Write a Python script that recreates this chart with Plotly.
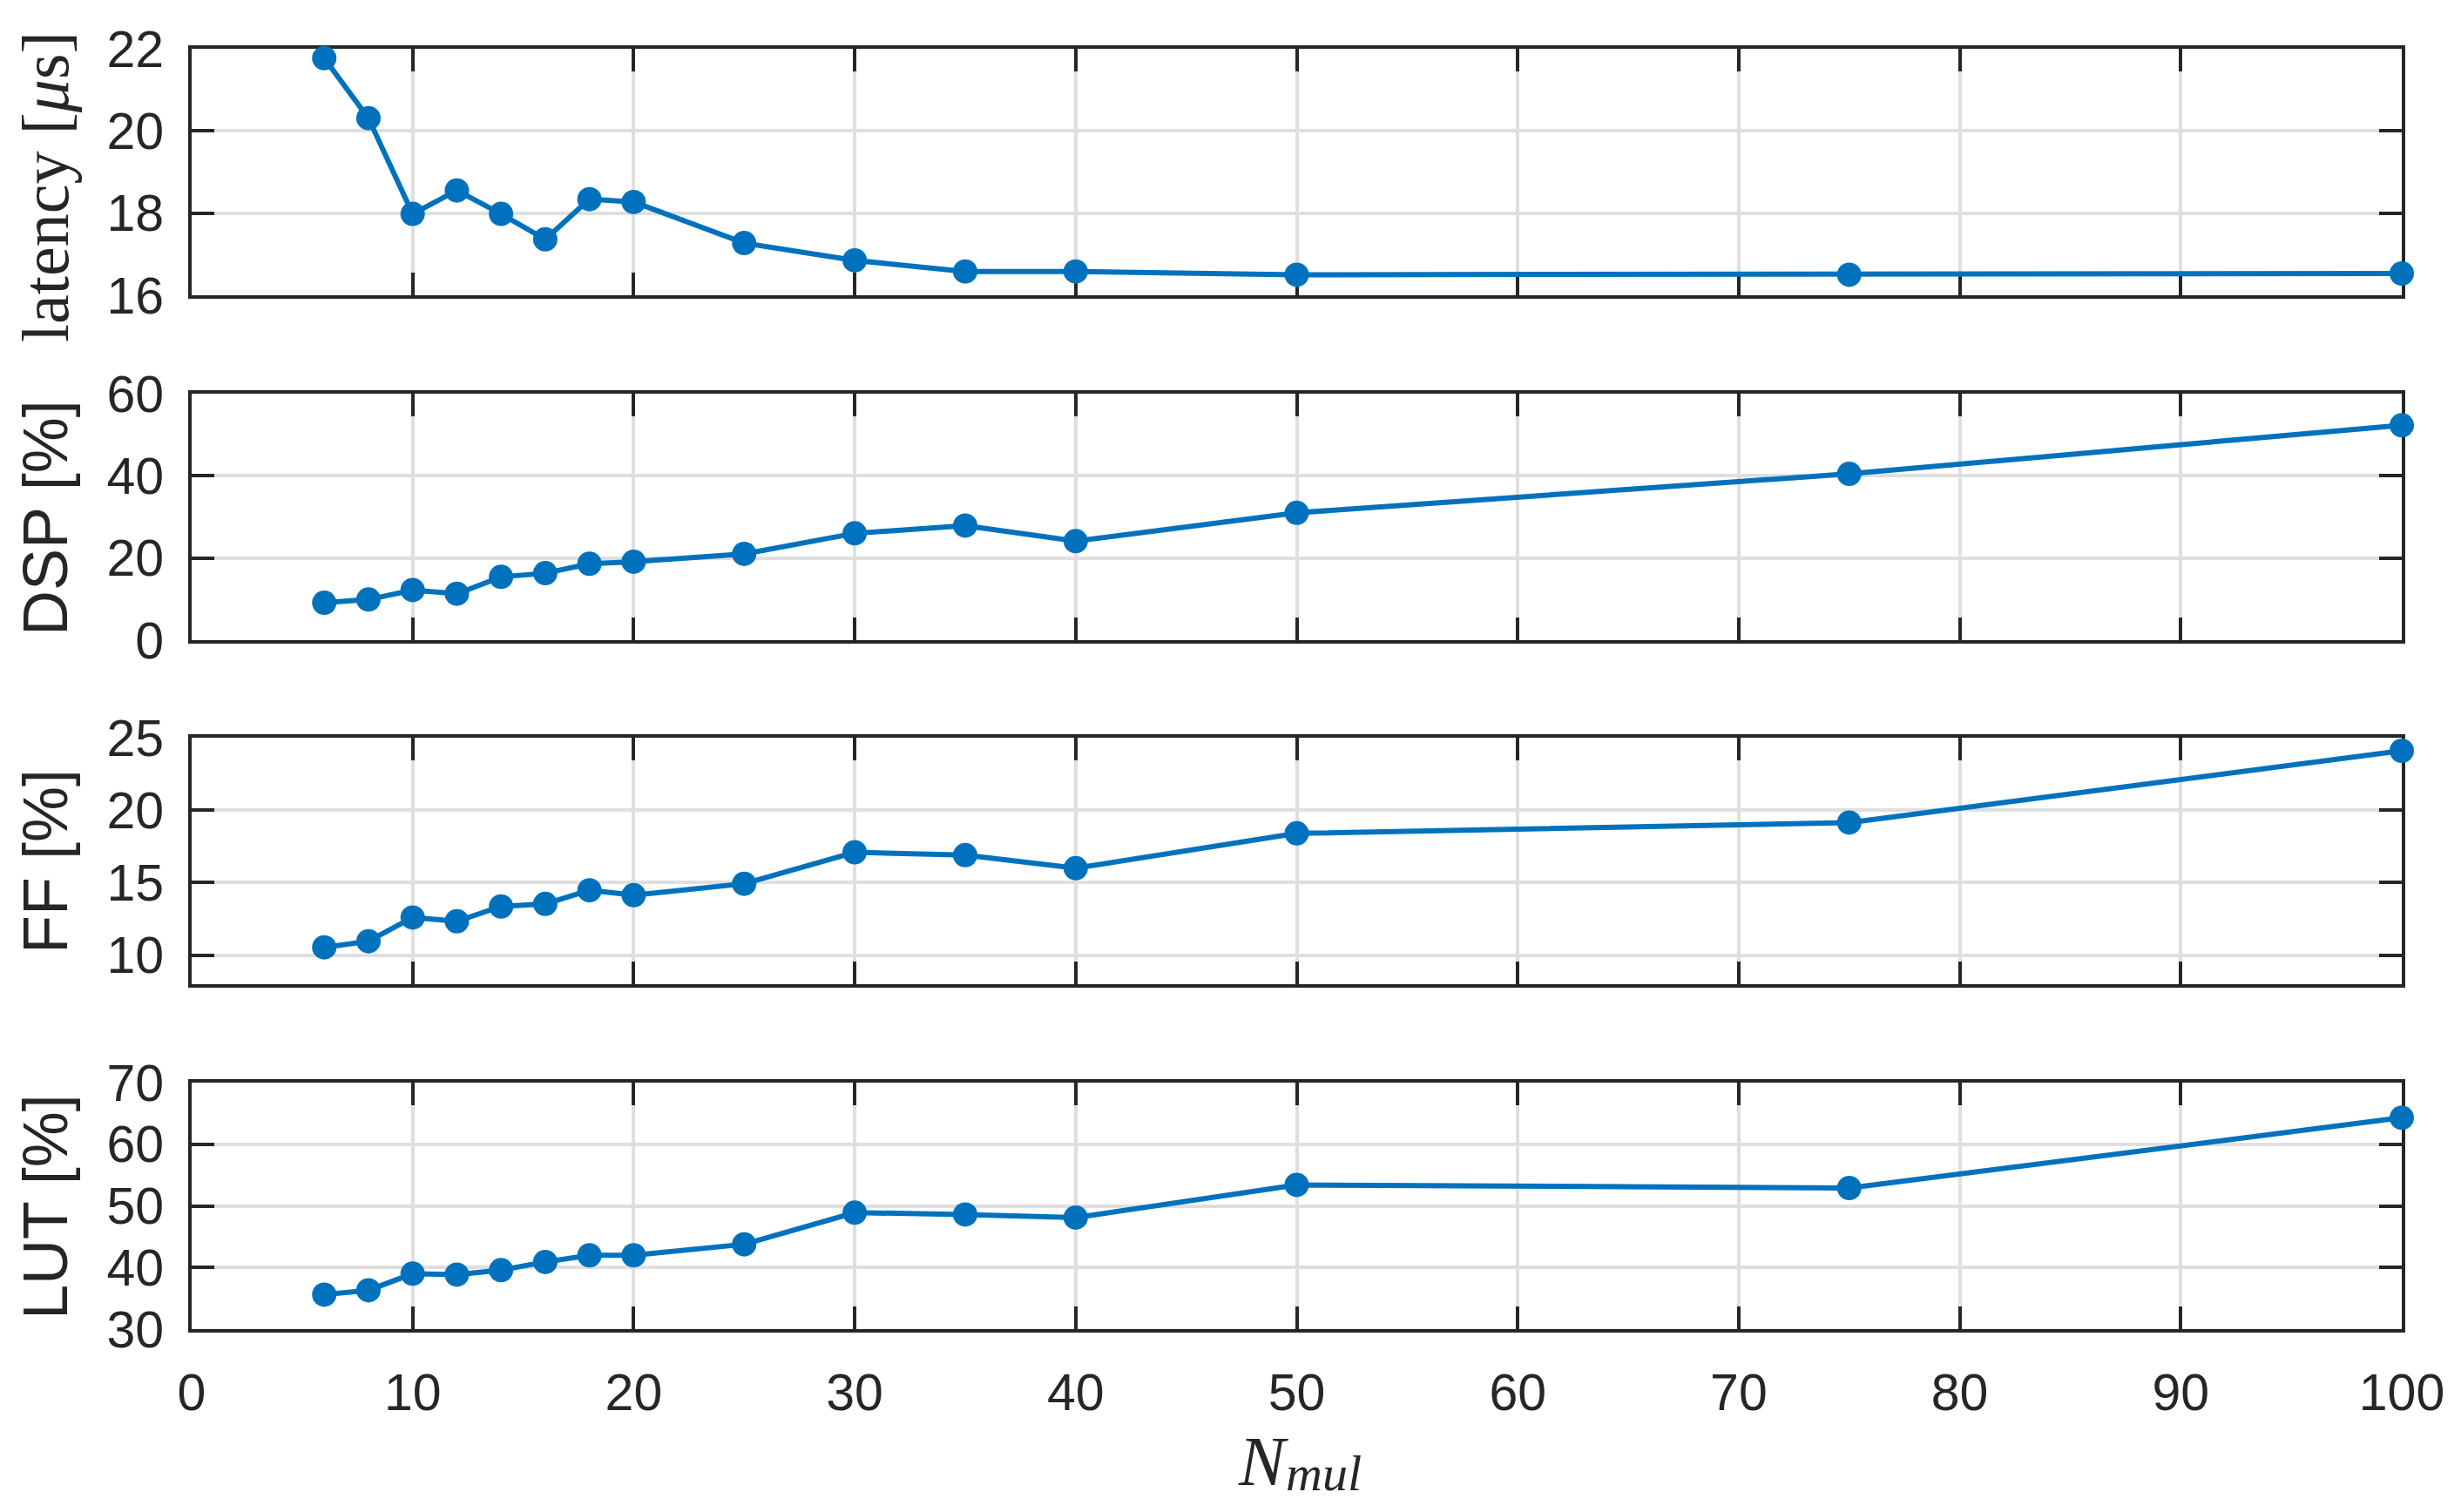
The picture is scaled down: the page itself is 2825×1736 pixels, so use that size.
import plotly.graph_objects as go

n_mul = [6, 8, 10, 12, 14, 16, 18, 20, 25, 30, 35, 40, 50, 75, 100]
latency_us = [21.77, 20.31, 17.98, 18.55, 17.98, 17.36, 18.34, 18.27, 17.27, 16.85, 16.58, 16.58, 16.5, 16.5, 16.53]
dsp_pct = [9.1, 9.9, 12.2, 11.3, 15.4, 16.3, 18.6, 19.1, 21.0, 26.0, 27.9, 24.1, 31.0, 40.5, 52.3]
ff_pct = [10.54, 10.96, 12.6, 12.34, 13.36, 13.54, 14.48, 14.14, 14.93, 17.1, 16.9, 16.0, 18.4, 19.15, 24.1]
lut_pct = [35.6, 36.3, 39.0, 38.84, 39.57, 40.9, 41.98, 41.98, 43.76, 48.9, 48.6, 48.1, 53.4, 52.9, 64.3]

x_ticks = [0, 10, 20, 30, 40, 50, 60, 70, 80, 90, 100]
lat_ticks = [16, 18, 20, 22]
dsp_ticks = [0, 20, 40, 60]
ff_ticks = [10, 15, 20, 25]
lut_ticks = [30, 40, 50, 60, 70]

series = [latency_us, dsp_pct, ff_pct, lut_pct]
y_ranges = [[16, 22], [0, 60], [8, 25], [30, 70]]
y_tickvals = [lat_ticks, dsp_ticks, ff_ticks, lut_ticks]
y_titles = ["latency [<i>μ</i>s]", "DSP [%]", "FF [%]", "LUT [%]"]

# page body has an 8px margin; figure is sized so it fills the window exactly
OFF = 8
W, H = 2825 - 2 * OFF, 1736 - 2 * OFF
ML, MR, MT, MB = 220 - OFF, 68 - OFF, 56 - OFF, 210 - OFF
panel_px = [(56, 339), (452, 735), (847, 1130), (1243, 1526)]
panel_px = [(a - OFF, b - OFF) for a, b in panel_px]
title_centers = [214, 594, 989, 1385]
plot_h = H - MT - MB
plot_w = W - ML - MR

LINE = "#0072BD"
AX = "#262626"
GRID = "#DFDFDF"
SANS = "Liberation Sans, Arial, Helvetica, sans-serif"
SERIF = "Liberation Serif, Times New Roman, serif"


def px_x(xs):
    return (xs - OFF - ML) / plot_w


def px_y(ys):
    return (H - MB - (ys - OFF)) / plot_h


fig = go.Figure()
for i, ys in enumerate(series):
    suffix = "" if i == 0 else str(i + 1)
    fig.add_trace(go.Scatter(
        x=n_mul, y=ys, mode="lines+markers",
        line=dict(color=LINE, width=6),
        marker=dict(color=LINE, size=28, line=dict(width=0)),
        cliponaxis=False, showlegend=False,
        xaxis="x" + suffix, yaxis="y" + suffix,
    ))
    top, bot = panel_px[i]
    dom = [max(0.0, (H - MB - bot) / plot_h), min(1.0, (H - MB - top) / plot_h)]
    last = i == 3
    fig.update_layout({
        "xaxis" + suffix: dict(
            domain=[0, 1], range=[0, 100], tickvals=x_ticks,
            showticklabels=last, anchor="y" + suffix,
            showline=True, linecolor=AX, linewidth=4, mirror="ticks",
            ticks="inside", ticklen=26, tickwidth=4, tickcolor=AX,
            showgrid=True, gridcolor=GRID, gridwidth=3.5, zeroline=False,
            tickfont=dict(family=SANS, size=59, color=AX),
            ticklabelstandoff=18, layer="below traces",
        ),
        "yaxis" + suffix: dict(
            domain=dom, range=y_ranges[i], tickvals=y_tickvals[i],
            anchor="x" + suffix,
            showline=True, linecolor=AX, linewidth=4, mirror="ticks",
            ticks="inside", ticklen=26, tickwidth=4, tickcolor=AX,
            showgrid=True, gridcolor=GRID, gridwidth=3.5, zeroline=False,
            tickfont=dict(family=SANS, size=59, color=AX),
            ticklabelstandoff=16, layer="below traces",
        ),
    })
    fig.add_annotation(
        text=y_titles[i], xref="paper", yref="paper",
        x=px_x(52), y=px_y(title_centers[i]),
        xanchor="center", yanchor="middle", textangle=-90, showarrow=False,
        font=dict(family=SERIF if i == 0 else SANS, size=76 if i == 0 else 72, color=AX),
    )

# x-axis title N_mul (main symbol + subscript as two text pieces)
fig.add_annotation(
    text="<i>N</i>", xref="paper", yref="paper",
    x=px_x(1482), y=px_y(1678), xanchor="right", yanchor="middle",
    showarrow=False, font=dict(family=SERIF, size=80, color=AX),
)
fig.add_annotation(
    text="<i>mul</i>", xref="paper", yref="paper",
    x=px_x(1474), y=px_y(1691), xanchor="left", yanchor="middle",
    showarrow=False, font=dict(family=SERIF, size=58, color=AX),
)

fig.update_layout(
    width=W, height=H, margin=dict(l=ML, r=MR, t=MT, b=MB, autoexpand=False),
    paper_bgcolor="white", plot_bgcolor="white",
)
fig.write_html("out.html")
